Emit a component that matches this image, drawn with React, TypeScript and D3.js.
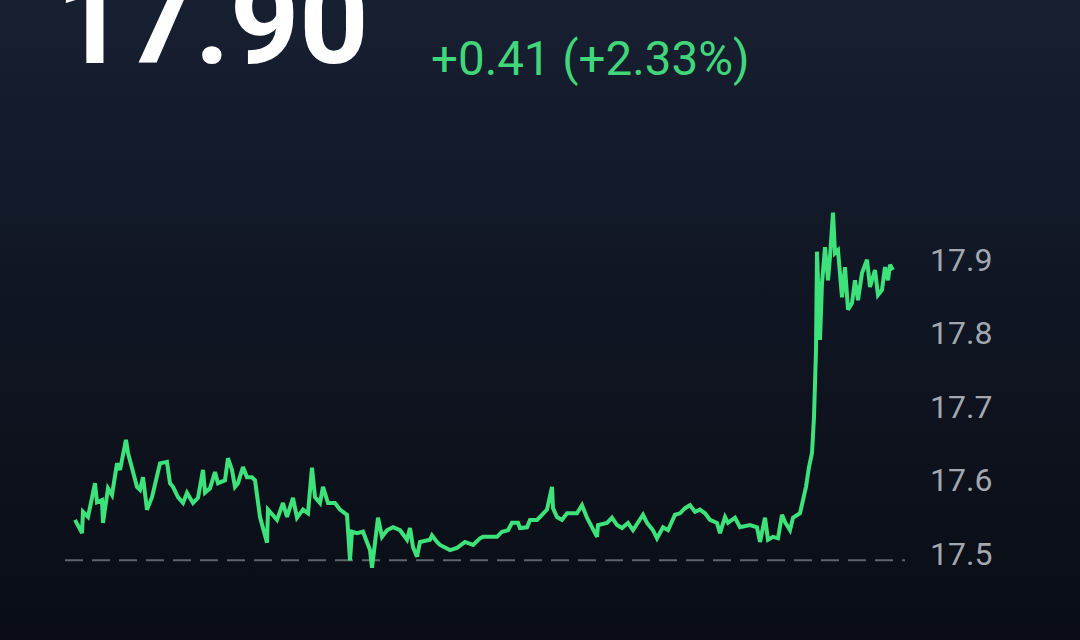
import React from "react";
import * as d3 from "d3";

// minutes into the session (0..420) and prices
const times = [
  5, 8.5, 9, 11.5, 15, 16, 18.5, 19, 21.5, 23.5, 26, 27.5, 30.5, 31.5, 36, 37.5, 39, 41, 43.5, 47.5,
  51, 52.5, 54, 56.5, 59, 61, 64, 66.5, 69, 70, 72.5, 75, 76.5, 80, 81.5, 83.5, 85, 86.5, 89, 91,
  93.5, 95, 97.5, 101, 101.5, 106, 109, 111, 114, 116, 119, 121.5, 123.5, 125, 127.5, 129, 131.5, 135, 137.5, 141,
  142.5, 143.5, 146, 149, 152.5, 153.5, 156.5, 158.5, 161, 164, 167.5, 171, 172.5, 174, 176, 177.5, 182.5, 183.5, 186, 187.5,
  192.5, 196, 200, 204, 207.5, 209, 216, 218.5, 221.5, 223.5, 226.5, 227.5, 231, 232.5, 236, 238.5, 241, 243.5, 244, 246,
  248.5, 251, 256, 258.5, 261, 266, 266.5, 271, 273.5, 276, 278.5, 281.5, 284, 289, 291, 294, 296, 299, 301.5, 305,
  307.5, 310, 312.5, 315, 317.5, 320, 322.5, 326, 327.5, 330, 331.5, 335, 337.5, 342.5, 346, 347.5, 350, 351.5, 354, 356.5,
  358.5, 360, 362.5, 364, 367.5, 369, 370.5, 372, 373.5, 374.5, 375.5, 376, 377.5, 378.5, 380, 381.5, 382.5, 384, 385, 386.5,
  388.5, 390, 391.5, 393.5, 395, 396.5, 398.5, 401, 402.5, 405, 406.5, 408.5, 410, 411.5, 412.5, 414,
];
const prices = [
  17.545, 17.527, 17.556, 17.549, 17.595, 17.569, 17.572, 17.541, 17.588, 17.579, 17.622, 17.613, 17.654, 17.636, 17.59, 17.586, 17.603, 17.559, 17.576, 17.622,
  17.624, 17.595, 17.59, 17.576, 17.568, 17.582, 17.568, 17.575, 17.613, 17.582, 17.588, 17.61, 17.595, 17.599, 17.629, 17.613, 17.59, 17.595, 17.617, 17.603,
  17.603, 17.599, 17.549, 17.514, 17.559, 17.545, 17.568, 17.549, 17.575, 17.548, 17.559, 17.554, 17.616, 17.576, 17.568, 17.59, 17.568, 17.568, 17.559, 17.552,
  17.49, 17.529, 17.527, 17.529, 17.504, 17.48, 17.548, 17.522, 17.531, 17.535, 17.531, 17.518, 17.534, 17.508, 17.495, 17.515, 17.518, 17.524, 17.515, 17.511,
  17.504, 17.507, 17.515, 17.511, 17.52, 17.522, 17.522, 17.529, 17.531, 17.541, 17.541, 17.534, 17.535, 17.545, 17.545, 17.552, 17.559, 17.59, 17.561, 17.549,
  17.545, 17.554, 17.554, 17.565, 17.548, 17.522, 17.538, 17.541, 17.548, 17.538, 17.534, 17.541, 17.531, 17.552, 17.541, 17.531, 17.52, 17.535, 17.531, 17.552,
  17.554, 17.561, 17.565, 17.556, 17.559, 17.554, 17.545, 17.541, 17.527, 17.549, 17.541, 17.548, 17.535, 17.538, 17.535, 17.515, 17.548, 17.518, 17.522, 17.52,
  17.552, 17.542, 17.531, 17.548, 17.554, 17.572, 17.59, 17.617, 17.636, 17.685, 17.776, 17.91, 17.79, 17.867, 17.916, 17.871, 17.903, 17.963, 17.908, 17.912,
  17.848, 17.889, 17.831, 17.84, 17.871, 17.844, 17.881, 17.899, 17.862, 17.885, 17.851, 17.858, 17.889, 17.871, 17.892, 17.885,
];
const yTicks = [17.5, 17.6, 17.7, 17.8, 17.9];
const prevClose = 17.49;
const lastPrice = "17.90";
const changeText = "+0.41 (+2.33%)";

const W = 1080;
const H = 640;

export default function App() {
  const x = d3.scaleLinear().domain([0, 420]).range([65, 905]);
  const y = d3.scaleLinear().domain([17.5, 17.9]).range([553, 259]);
  const pts: [number, number][] = times.map((t, i) => [t, prices[i]]);
  const line = d3
    .line<[number, number]>()
    .x((d) => x(d[0]))
    .y((d) => y(d[1]))
    .curve(d3.curveLinear);

  return (
    <div style={{ position: "fixed", left: 0, top: 0, width: W, height: H }}>
      <svg width={W} height={H} style={{ display: "block" }}>
        <defs>
          <linearGradient id="bg" x1="0" y1="0" x2="0" y2="1">
            <stop offset="0" stopColor="#172031" />
            <stop offset="0.5" stopColor="#0f1522" />
            <stop offset="1" stopColor="#0a0d15" />
          </linearGradient>
        </defs>
        <rect x={0} y={0} width={W} height={H} fill="url(#bg)" />
        <text
          x={56}
          y={63}
          fill="#ffffff"
          fontFamily="Roboto, 'Noto Sans', sans-serif"
          fontWeight={700}
          fontSize={121}
        >
          {lastPrice}
        </text>
        <text
          x={431}
          y={75}
          fill="#42d67b"
          fontFamily="Roboto, 'Noto Sans', sans-serif"
          fontSize={47.5}
        >
          {changeText}
        </text>
        <line
          x1={x(0)}
          x2={x(420)}
          y1={y(prevClose)}
          y2={y(prevClose)}
          stroke="#5f636b"
          strokeWidth={2}
          strokeDasharray="18 9"
        />
        {yTicks.map((t) => (
          <text
            key={t}
            x={930}
            y={y(t)}
            dy="0.36em"
            fill="#a3a8b0"
            fontFamily="Roboto, 'Noto Sans', sans-serif"
            fontSize={32}
          >
            {t.toFixed(1)}
          </text>
        ))}
        <path
          d={line(pts) || ""}
          fill="none"
          stroke="#3ee27a"
          strokeWidth={4}
          strokeLinejoin="miter"
          strokeMiterlimit={3}
        />
      </svg>
    </div>
  );
}
